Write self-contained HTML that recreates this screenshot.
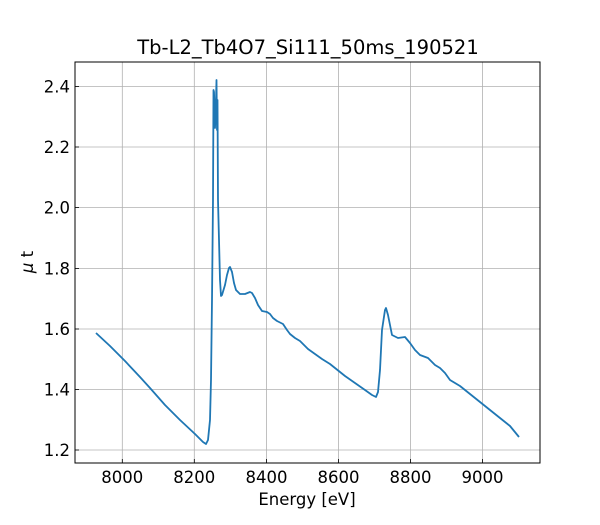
<!DOCTYPE html><html><head><style>body{margin:0;background:#fff}</style></head><body>
<svg width="600" height="520" xmlns="http://www.w3.org/2000/svg" font-family="DejaVu Sans, Liberation Sans, sans-serif">
<rect width="600" height="520" fill="#fff"/>
<g stroke="#b0b0b0" stroke-width="0.8">
<line x1="122.3" y1="62" x2="122.3" y2="463"/><line x1="194.3" y1="62" x2="194.3" y2="463"/><line x1="266.5" y1="62" x2="266.5" y2="463"/><line x1="338.5" y1="62" x2="338.5" y2="463"/><line x1="410.5" y1="62" x2="410.5" y2="463"/><line x1="482.5" y1="62" x2="482.5" y2="463"/>
<line x1="75" y1="86.5" x2="540" y2="86.5"/><line x1="75" y1="147" x2="540" y2="147"/><line x1="75" y1="207.5" x2="540" y2="207.5"/><line x1="75" y1="268.5" x2="540" y2="268.5"/><line x1="75" y1="329" x2="540" y2="329"/><line x1="75" y1="389.5" x2="540" y2="389.5"/><line x1="75" y1="450" x2="540" y2="450"/>
</g>
<polyline fill="none" stroke="#1f77b4" stroke-width="1.8" stroke-linejoin="round" points="96,333 110,346 125,361 140,377 150,388 165,405 180,420 195,434 203,442 206,444 208,440 210,420 211,380 212,300 213,200 213.5,90 214,92 215,128 216,100 216.5,80 217,130 217.5,100 218,200 219,240 220,280 221,296 222,295 225,285 227,275 229,268 230,267 232,272 234,283 236,290 240,294 245,294 250,292 252,293 255,298 258,305 262,311 267,312 270,314 273,318 277,321 283,324 287,330 290,334 295,338 300,341 308,349 315,354 322,359 330,364 345,376 355,383 365,390 372,395 376,397 378,392 380,370 382,330 385,310 386,308 388,315 390,325 392,335 398,338 405,337 410,343 415,350 420,355 428,358 435,365 440,368 445,373 450,380 460,386 470,394 480,402 490,410 500,418 510,426 519,437"/>
<rect x="75" y="62" width="465" height="401" fill="none" stroke="#000" stroke-width="1"/>
<g stroke="#000" stroke-width="0.8">
<line x1="122.3" y1="463" x2="122.3" y2="459"/><line x1="194.3" y1="463" x2="194.3" y2="459"/><line x1="266.5" y1="463" x2="266.5" y2="459"/><line x1="338.5" y1="463" x2="338.5" y2="459"/><line x1="410.5" y1="463" x2="410.5" y2="459"/><line x1="482.5" y1="463" x2="482.5" y2="459"/>
<line x1="75" y1="86.5" x2="79" y2="86.5"/><line x1="75" y1="147" x2="79" y2="147"/><line x1="75" y1="207.5" x2="79" y2="207.5"/><line x1="75" y1="268.5" x2="79" y2="268.5"/><line x1="75" y1="329" x2="79" y2="329"/><line x1="75" y1="389.5" x2="79" y2="389.5"/><line x1="75" y1="450" x2="79" y2="450"/>
</g>
<g font-size="16.5" text-anchor="middle" fill="#000">
<text x="122.3" y="483">8000</text><text x="194.3" y="483">8200</text><text x="266.5" y="483">8400</text><text x="338.5" y="483">8600</text><text x="410.5" y="483">8800</text><text x="482.5" y="483">9000</text>
</g>
<g font-size="16.5" text-anchor="end" fill="#000">
<text x="70" y="92.5">2.4</text><text x="70" y="153">2.2</text><text x="70" y="213.5">2.0</text><text x="70" y="274.5">1.8</text><text x="70" y="335">1.6</text><text x="70" y="395.5">1.4</text><text x="70" y="456">1.2</text>
</g>
<text x="307" y="505" font-size="16.5" text-anchor="middle">Energy [eV]</text>
<text transform="translate(33,262) rotate(-90)" font-size="16.5" text-anchor="middle"><tspan font-style="italic">μ</tspan> t</text>
<text x="308" y="54" font-size="19.5" text-anchor="middle">Tb-L2_Tb4O7_Si111_50ms_190521</text>
</svg>
</body></html>
